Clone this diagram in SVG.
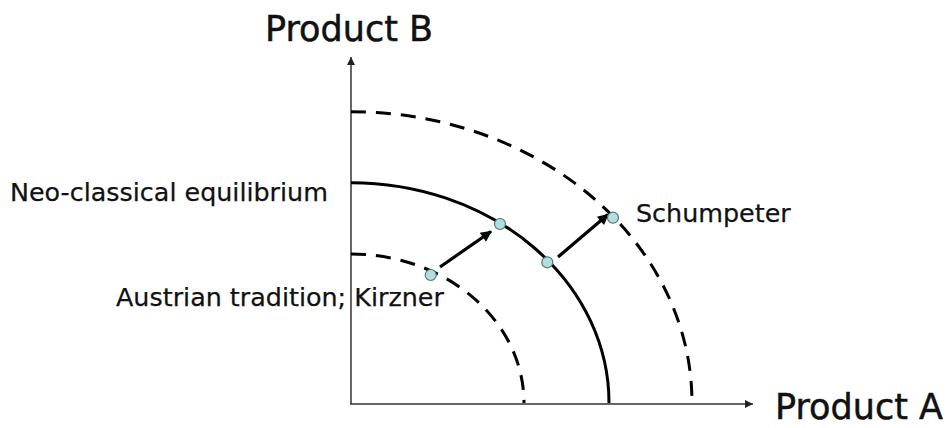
<svg xmlns="http://www.w3.org/2000/svg" width="951" height="428" viewBox="0 0 951 428">
<style>
.lbl{font-family:"DejaVu Sans","Liberation Sans",sans-serif;fill:#111;}
.big{font-size:35px;stroke:#111;stroke-width:0.5;}
.sm{font-size:25.4px;stroke:#111;stroke-width:0.25;}
.axis{stroke:#333;stroke-width:1.5;fill:none;}
.curve{stroke:#000;stroke-width:3;fill:none;}
.dash{stroke-dasharray:15 10;}
.dot{fill:#b4dede;stroke:#4d7a7a;stroke-width:1.2;}
.arr{stroke:#000;stroke-width:3.2;fill:none;}
</style>
<defs>
<marker id="axhead" viewBox="0 0 10 10" refX="10" refY="5" markerWidth="9" markerHeight="8" markerUnits="userSpaceOnUse" orient="auto">
<path d="M0,0 L10,5 L0,10 Z" fill="#222"/>
</marker>
<marker id="head" viewBox="0 0 10 10" refX="9" refY="5" markerWidth="14" markerHeight="11" markerUnits="userSpaceOnUse" orient="auto">
<path d="M0,0 L10,5 L0,10 Z" fill="#000"/>
</marker>
</defs>
<g id="axes">
<line class="axis" x1="351" y1="404" x2="351" y2="57" marker-end="url(#axhead)"/>
<line class="axis" x1="350" y1="404" x2="753" y2="404" marker-end="url(#axhead)"/>
</g>
<g id="curves">
<path id="inner" class="curve dash" d="M351 254 A173 149 0 0 1 524 403"/>
<path id="middle" class="curve" d="M351 182.7 A258 220 0 0 1 609 403"/>
<path id="outer" class="curve dash" d="M351 111.7 A341 291 0 0 1 692 403"/>
</g>
<g id="connectors">
<line class="arr" x1="440" y1="267" x2="491" y2="231.5" marker-end="url(#head)"/>
<line class="arr" x1="558" y1="257" x2="608" y2="214.5" marker-end="url(#head)"/>
</g>
<g id="points">
<circle id="p-kirzner" class="dot" cx="430.7" cy="275" r="5.5"/>
<circle id="p-neo1" class="dot" cx="500" cy="224" r="5.5"/>
<circle id="p-neo2" class="dot" cx="547.3" cy="262.3" r="5.5"/>
<circle id="p-schumpeter" class="dot" cx="613" cy="217.7" r="5.5"/>
</g>
<g id="labels">
<text class="lbl big" x="265" y="41">Product B</text>
<text class="lbl big" x="775" y="419" font-size="34">Product A</text>
<text class="lbl sm" x="10" y="201">Neo-classical equilibrium</text>
<text class="lbl sm" x="116" y="306">Austrian tradition; Kirzner</text>
<text class="lbl sm" x="636" y="222">Schumpeter</text>
</g>
</svg>
